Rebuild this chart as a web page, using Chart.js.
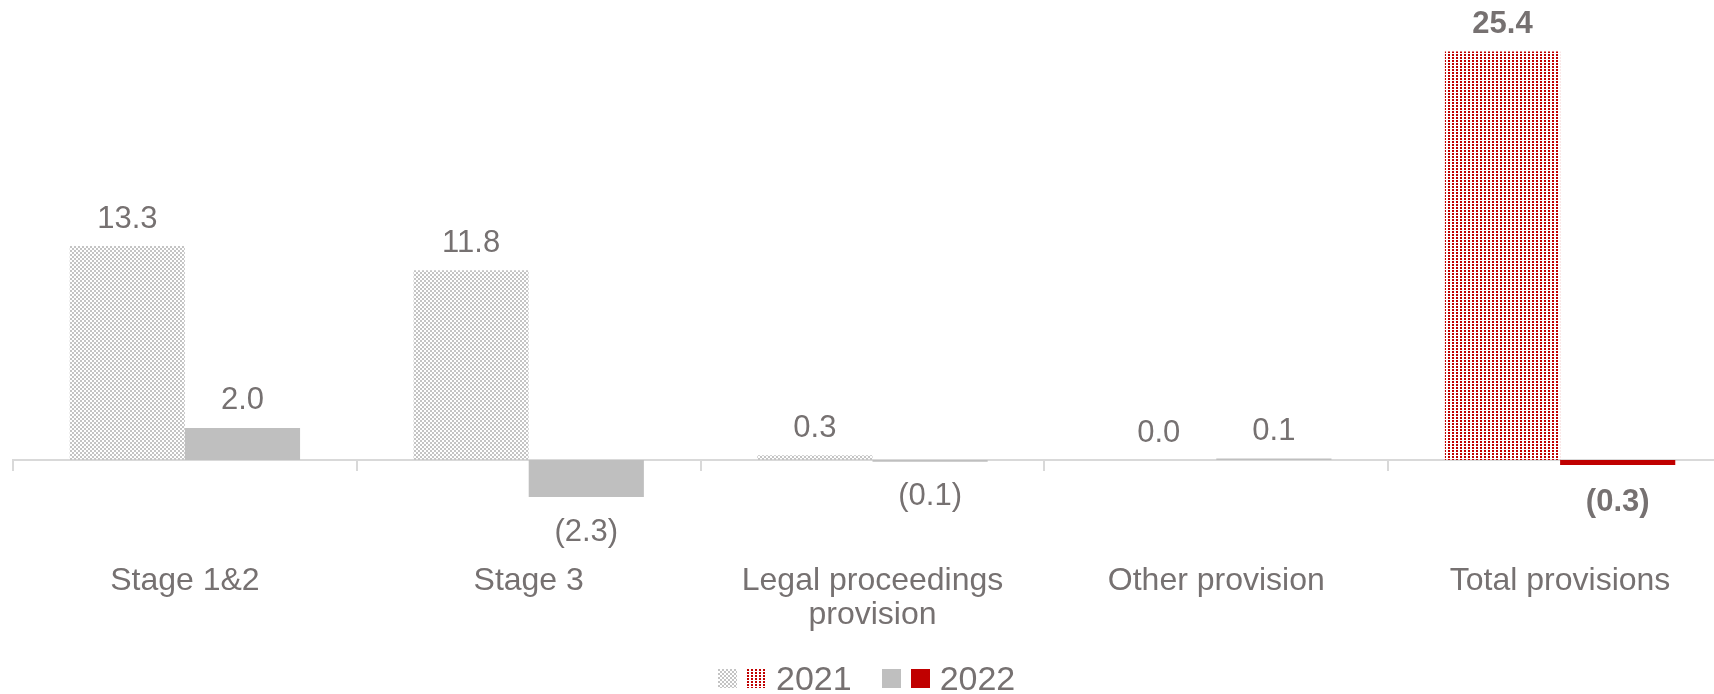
<!DOCTYPE html>
<html>
<head>
<meta charset="utf-8">
<script src="https://cdn.jsdelivr.net/npm/chart.js@4/dist/chart.umd.min.js"></script>
<style>
  html, body { margin: 0; padding: 0; background: #fff; overflow: hidden; }
  #wrap { position: relative; width: 1732px; height: 694px; }
  #legend {
    position: absolute; left: 718px; top: 658px; height: 40px;
    display: flex; align-items: center;
    font-family: "Liberation Sans", Arial, sans-serif; font-size: 34px; color: #767171;
  }
  #legend .sw { width: 19px; height: 19px; margin-right: 10px; }
  #legend .item { display: flex; align-items: center; margin-right: 30px; }
</style>
</head>
<body>
<div id="wrap">
  <canvas id="chart" width="1732" height="694"></canvas>
  <div id="legend"></div>
</div>
<script>
// data
const categories = ['Stage 1&2', 'Stage 3', ['Legal proceedings', 'provision'], 'Other provision', 'Total provisions'];
const values2021 = [13.3, 11.8, 0.3, 0.0, 25.4];
const values2022 = [2.0, -2.3, -0.1, 0.1, -0.3];
const seriesNames = ['2021', '2022'];
const totalIndex = 4;

const GREY = '#bfbfbf';
const RED = '#c00000';
const TEXT = '#767171';
const FONT = '"Liberation Sans", Arial, sans-serif';

// small dotted tiles used for the 2021 bars
function makeDots(color, w, h, stagger) {
    const c = document.createElement('canvas');
    c.width = w; c.height = h;
    const g = c.getContext('2d');
    g.fillStyle = color;
    g.fillRect(0, 0, 2, 2);
    if (stagger) g.fillRect(w / 2, h / 2, 2, 2);
    return c;
}

const ctx = document.getElementById('chart').getContext('2d');
const greyDots = makeDots('#c4c4c4', 4, 4, true);
const redDots = makeDots(RED, 4, 3, false);
const greyPattern = ctx.createPattern(greyDots, 'repeat');
const redPattern = ctx.createPattern(redDots, 'repeat');

function fmt(v) {
    return v < 0 ? '(' + Math.abs(v).toFixed(1) + ')' : v.toFixed(1);
}

// value labels above / below each bar
const valueLabels = {
    id: 'valueLabels',
    afterDatasetsDraw(chart) {
        const c = chart.ctx;
        c.save();
        c.fillStyle = TEXT;
        c.textAlign = 'center';
        c.textBaseline = 'middle';
        chart.data.datasets.forEach((ds, di) => {
            chart.getDatasetMeta(di).data.forEach((bar, i) => {
                const v = ds.data[i];
                const bold = i === totalIndex;
                c.font = (bold ? 'bold ' : '') + '31px ' + FONT;
                const y = v < 0 ? bar.y + (bold ? 38 : 35) : bar.y - 27;
                c.fillText(fmt(v), bar.x, y);
            });
        });
        c.restore();
    }
};

new Chart(ctx, {
    type: 'bar',
    data: {
        labels: categories,
        datasets: [
            {
                label: seriesNames[0],
                data: values2021,
                backgroundColor: values2021.map((v, i) => i === totalIndex ? redPattern : greyPattern),
                borderWidth: 0
            },
            {
                label: seriesNames[1],
                data: values2022,
                backgroundColor: values2022.map((v, i) => i === totalIndex ? RED : GREY),
                borderWidth: 0
            }
        ]
    },
    options: {
        responsive: false,
        animation: false,
        layout: { padding: { left: 13, right: 0, top: 0, bottom: 0 } },
        categoryPercentage: 0.67,
        barPercentage: 1,
        plugins: {
            legend: { display: false },
            tooltip: { enabled: false }
        },
        scales: {
            x: {
                position: 'bottom',
                grid: { display: false },
                border: { display: false },
                ticks: {
                    color: TEXT,
                    padding: 16,
                    maxRotation: 0,
                    autoSkip: false,
                    font: { family: FONT, size: 32, lineHeight: 1.06 }
                },
                afterFit(scale) { scale.height = 154; }
            },
            xZero: {
                type: 'category',
                position: { y: 0 },
                offset: true,
                grid: {
                    offset: true,
                    drawOnChartArea: false,
                    drawTicks: true,
                    tickLength: 10,
                    color: '#d9d9d9',
                    lineWidth: 2
                },
                border: { display: true, color: '#d9d9d9', width: 2 },
                ticks: { display: false }
            },
            y: {
                display: false,
                min: -4.97,
                max: 28.6
            }
        }
    },
    plugins: [valueLabels]
});

// legend with two swatches per year
const legend = document.getElementById('legend');
const swatches = [
    [greyDots.toDataURL(), redDots.toDataURL()],
    [GREY, RED]
];
seriesNames.forEach((name, k) => {
    const item = document.createElement('div');
    item.className = 'item';
    swatches[k].forEach(s => {
        const sw = document.createElement('div');
        sw.className = 'sw';
        if (s.startsWith('data:')) sw.style.backgroundImage = 'url(' + s + ')';
        else sw.style.background = s;
        item.appendChild(sw);
    });
    const t = document.createElement('span');
    t.textContent = name;
    item.appendChild(t);
    legend.appendChild(item);
});
</script>
</body>
</html>
